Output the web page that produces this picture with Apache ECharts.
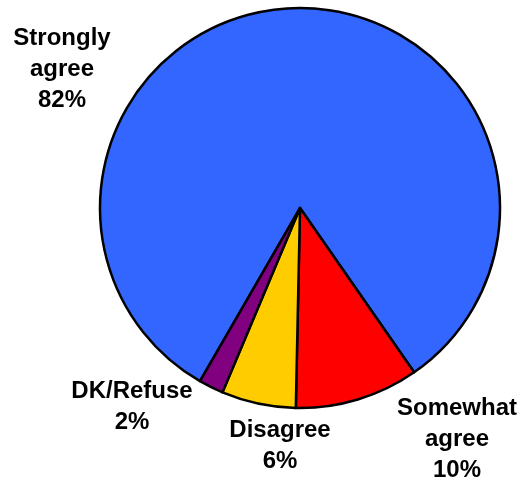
<!DOCTYPE html>
<html>
<head>
<meta charset="utf-8">
<script src="https://cdn.jsdelivr.net/npm/echarts@6/dist/echarts.min.js"></script>
<style>
  html, body { margin: 0; padding: 0; background: #fff; }
  #chart { width: 520px; height: 481px; }
</style>
</head>
<body>
<div id="chart"></div>
<script>
// Response categories and their shares (percent)
var categories = ['Strongly agree', 'Somewhat agree', 'Disagree', 'DK/Refuse'];
var shares = [82, 10, 6, 2];
var colors = ['#3366FF', '#FF0000', '#FFCC00', '#800080'];

// Label anchor points (center of each text block), per category
var labelAnchors = [[62, 69], [457, 439], [280, 446], [132, 407]];

var chart = echarts.init(document.getElementById('chart'), null, { renderer: 'canvas' });

chart.setOption({
  animation: false,
  backgroundColor: '#ffffff',
  series: [{
    type: 'pie',
    center: [300, 208],
    radius: 200,
    startAngle: -120,
    clockwise: true,
    avoidLabelOverlap: false,
    itemStyle: { borderColor: '#000000', borderWidth: 2.5 },
    label: {
      show: true,
      position: 'outside',
      formatter: function (p) {
        return p.name.replace(' ', '\n') + '\n' + p.value + '%';
      },
      fontFamily: 'Liberation Sans, Arial, sans-serif',
      fontWeight: 'bold',
      fontSize: 24,
      lineHeight: 31,
      color: '#000000',
      align: 'center'
    },
    labelLine: { show: false },
    labelLayout: function (params) {
      var a = labelAnchors[params.dataIndex];
      return { x: a[0], y: a[1], align: 'center', verticalAlign: 'middle' };
    },
    emphasis: { disabled: true },
    data: categories.map(function (c, i) {
      return { name: c, value: shares[i], itemStyle: { color: colors[i] } };
    })
  }]
});
</script>
</body>
</html>
